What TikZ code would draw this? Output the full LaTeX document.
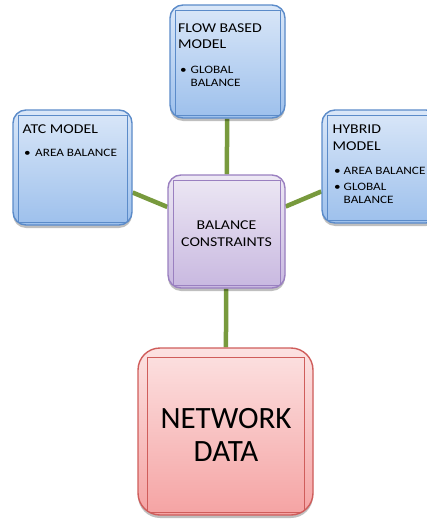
\documentclass[tikz,border=0pt]{standalone}
\usepackage{fontspec}
\setmainfont{Carlito}
\newfontfamily\wf[FakeStretch=1.17]{Carlito}
\usetikzlibrary{shadows,backgrounds}
\definecolor{bluebd}{HTML}{5B8BC9}
\definecolor{bluetop}{HTML}{DAE7F8}
\definecolor{bluebot}{HTML}{9DC0EC}
\definecolor{purpbd}{HTML}{9A80C0}
\definecolor{purptop}{HTML}{EDE8F4}
\definecolor{purpbot}{HTML}{C8B8E0}
\definecolor{redbd}{HTML}{CF5D5B}
\definecolor{redtop}{HTML}{FCE2E2}
\definecolor{redbot}{HTML}{F5A3A3}
\definecolor{conn}{HTML}{789A3D}
\begin{document}
\begin{tikzpicture}[x=1pt,y=-1pt,
  boxbase/.style={draw, line width=1.4pt, inner sep=0pt,
    drop shadow={shadow xshift=0pt,shadow yshift=-3pt,opacity=0.25,fill=black}},
  bluebox/.style={boxbase, rounded corners=13pt, draw=bluebd, top color=bluetop, bottom color=bluebot,
    path picture={\draw[bluebd,line width=1pt,sharp corners] ([shift={(5pt,-5pt)}]path picture bounding box.north west) rectangle ([shift={(-5pt,3pt)}]path picture bounding box.south east);}},
  purpbox/.style={boxbase, rounded corners=13pt, draw=purpbd, top color=purptop, bottom color=purpbot,
    path picture={\draw[purpbd,line width=1pt,sharp corners] ([shift={(5pt,-5pt)}]path picture bounding box.north west) rectangle ([shift={(-5pt,3pt)}]path picture bounding box.south east);}},
  redbox/.style={boxbase, rounded corners=22pt, draw=redbd, top color=redtop, bottom color=redbot,
    path picture={\draw[redbd,line width=1pt,sharp corners] ([shift={(9pt,-9pt)}]path picture bounding box.north west) rectangle ([shift={(-9pt,3pt)}]path picture bounding box.south east);}},
  ttl/.style={anchor=base west, inner sep=0pt, font=\wf\fontsize{13.5}{16}\selectfont},
  itm/.style={anchor=base west, inner sep=0pt, font=\wf\fontsize{11.3}{13}\selectfont},
  ctt/.style={anchor=base, inner sep=0pt, font=\wf\fontsize{13.5}{16}\selectfont},
  big/.style={anchor=base, inner sep=0pt, font=\fontsize{31}{33}\selectfont},
  link/.style={conn, line width=4.5pt}
]
\useasboundingbox (0,0) rectangle (426,522);

\node[bluebox, minimum width=115pt, minimum height=113pt] (flow) at (227.5,61.5) {};
\node[bluebox, minimum width=119pt, minimum height=115pt] (atc) at (72.5,167.5) {};
\node[bluebox, minimum width=117pt, minimum height=113pt] (hyb) at (380.5,166.5) {};
\node[purpbox, minimum width=117pt, minimum height=113pt] (ctr) at (226.5,231.5) {};
\node[redbox, minimum width=175pt, minimum height=167pt] (net) at (225.5,431.5) {};

\begin{scope}[on background layer]
\draw[link] (flow) -- (ctr);
\draw[link] (ctr) -- (net);
\draw[link] (atc) -- (ctr);
\draw[link] (ctr) -- (hyb);
\end{scope}

% flow based
\node[ttl] (f1) at (178,32) {FLOW BASED};
\node[ttl] (f2) at (178,48) {MODEL};
\node[itm] (fb) at (180,73) {•};
\node[itm] (f3) at (190.5,73) {GLOBAL};
\node[itm] (f4) at (190.5,86) {BALANCE};

% atc
\node[ttl] (a1) at (22.5,133) {ATC MODEL};
\node[itm] (ab) at (24,156) {•};
\node[itm] (a2) at (35,156) {AREA BALANCE};

% hybrid
\node[ttl] (h1) at (332.5,133) {HYBRID};
\node[ttl] (h2) at (332.5,150) {MODEL};
\node[itm] (hb1) at (334,174) {•};
\node[itm] (h3) at (343.5,174) {AREA BALANCE};
\node[itm] (hb2) at (334,190) {•};
\node[itm] (h4) at (343.5,190) {GLOBAL};
\node[itm] (h5) at (343.5,203) {BALANCE};

% center
\node[ctt] (c1) at (226.5,229) {BALANCE};
\node[ctt] (c2) at (226.5,246) {CONSTRAINTS};

% network
\node[big] (n1) at (226,428) {NETWORK};
\node[big] (n2) at (226,461) {DATA};
\end{tikzpicture}
\end{document}
